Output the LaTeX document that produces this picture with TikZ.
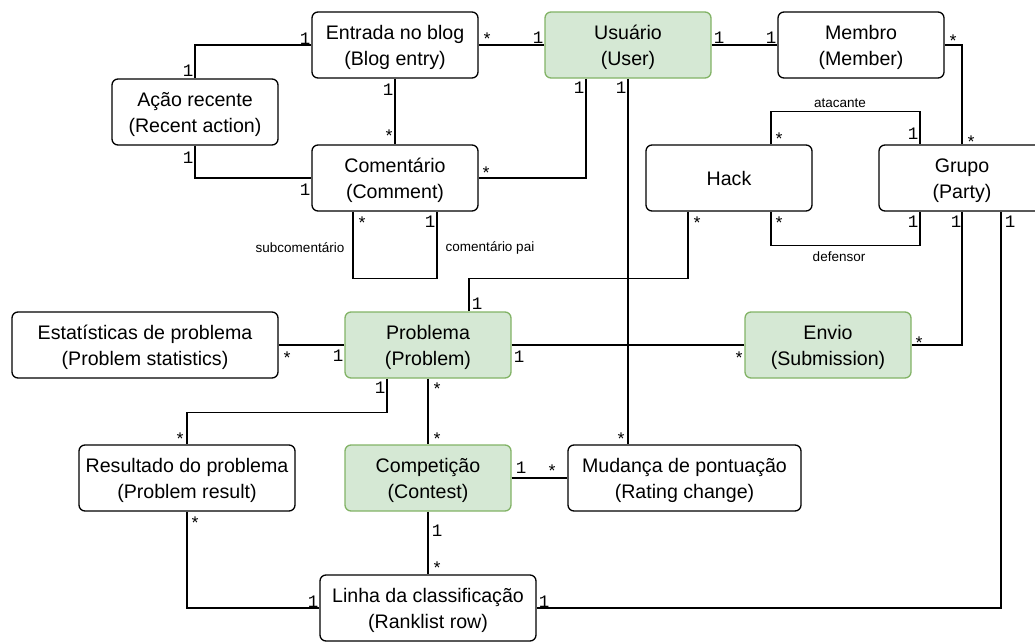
\documentclass[tikz,border=0pt]{standalone}
\usepackage{fontspec}
\setmainfont{Liberation Sans}
\newfontfamily\monof{Liberation Mono}
\usetikzlibrary{calc}
\definecolor{gfill}{HTML}{D5E8D4}
\definecolor{gdraw}{HTML}{82B366}
\newcommand{\tstrut}{\rule{0pt}{19.5pt}}
\begin{document}
\begin{tikzpicture}[x=1pt,y=-1pt,
 ent/.style={draw=black, line width=1.3pt, rounded corners=6pt, fill=white, minimum width=166pt, minimum height=66pt, align=center, inner sep=0pt, font=\fontsize{19.6}{25.5}\selectfont},
 grn/.style={ent, fill=gfill, draw=gdraw},
 conn/.style={line width=1.3pt, draw=black},
 mult/.style={inner sep=0pt, font=\monof\fontsize{17.5}{17.5}\selectfont},
 rl/.style={inner sep=0pt, font=\fontsize{13.5}{13.5}\selectfont}]
\useasboundingbox (0,0) rectangle (1035,642);
% entities
\node[ent] (blog) at (395,45) {\tstrut Entrada no blog\\(Blog entry)};
\node[grn] (user) at (628,45) {\tstrut Usuário\\(User)};
\node[ent] (member) at (861,45) {\tstrut Membro\\(Member)};
\node[ent] (recent) at (195,112) {\tstrut Ação recente\\(Recent action)};
\node[ent] (comment) at (395,178) {\tstrut Comentário\\(Comment)};
\node[ent] (hack) at (729,178) {Hack};
\node[ent] (party) at (962,178) {\tstrut Grupo\\(Party)};
\node[ent, minimum width=266pt] (stats) at (145,345) {\tstrut Estatísticas de problema\\(Problem statistics)};
\node[grn] (problem) at (428,345) {\tstrut Problema\\(Problem)};
\node[grn] (subm) at (828,345) {\tstrut Envio\\(Submission)};
\node[ent, minimum width=216pt] (presult) at (187,478) {\tstrut Resultado do problema\\(Problem result)};
\node[grn] (contest) at (428,478) {\tstrut Competição\\(Contest)};
\node[ent, minimum width=233pt] (rating) at (684.5,478) {\tstrut Mudança de pontuação\\(Rating change)};
\node[ent, minimum width=216pt] (rank) at (428,608) {\tstrut Linha da classificação\\(Ranklist row)};
% connectors
\draw[conn] (blog.west) -| (recent.north);
\draw[conn] (recent.south) |- (comment.west);
\draw[conn] (blog.south) -- (comment.north);
\draw[conn] (blog.east) -- (user.west);
\draw[conn] ($(user.south)+(-42,0)$) |- (comment.east);
\draw[conn] (user.east) -- (member.west);
\draw[conn] (member.east) -| (party.north);
\draw[conn] (user.south) -- (user.south |- rating.north);
\draw[conn] ($(hack.north)+(42,0)$) -- ++(0,-33) -| ($(party.north)+(-42,0)$);
\draw[conn] ($(hack.south)+(42,0)$) -- ++(0,34) -| ($(party.south)+(-42,0)$);
\draw[conn] ($(comment.south)+(-42,0)$) -- ++(0,67) -| ($(comment.south)+(42,0)$);
\draw[conn] ($(hack.south)+(-41,0)$) -- ++(0,67) -| ($(problem.north)+(41,0)$);
\draw[conn] (stats.east) -- (problem.west);
\draw[conn] (problem.east) -- (subm.west);
\draw[conn] (party.south) |- (subm.east);
\draw[conn] ($(party.south)+(39,0)$) |- (rank.east);
\draw[conn] ($(problem.south)+(-41,0)$) -- ++(0,34) -| (presult.north);
\draw[conn] (problem.south) -- (contest.north);
\draw[conn] (contest.east) -- (rating.west);
\draw[conn] (contest.south) -- (rank.north);
\draw[conn] (presult.south) |- (rank.west);
% multiplicities
\node[mult] (m1a) at (305,39) {1};
\node[mult] (m1b) at (188,71) {1};
\node[mult] (m2a) at (188,158) {1};
\node[mult] (m2b) at (305,190) {1};
\node[mult] (m3a) at (388,90) {1};
\node[mult] (m3b) at (389,136) {*};
\node[mult] (m4a) at (487,39) {*};
\node[mult] (m4b) at (538,38) {1};
\node[mult] (m5a) at (579,88) {1};
\node[mult] (m5b) at (486,173) {*};
\node[mult] (m6a) at (719,38) {1};
\node[mult] (m6b) at (771,38) {1};
\node[mult] (m7a) at (953,41) {*};
\node[mult] (m7b) at (971,142) {*};
\node[mult] (m8a) at (621,88) {1};
\node[mult] (m8b) at (621,439) {*};
\node[mult] (m9a) at (779,139) {*};
\node[mult] (m9b) at (913,134) {1};
\node[mult] (m10a) at (779,223) {*};
\node[mult] (m10b) at (913,222) {1};
\node[mult] (m11a) at (362,223) {*};
\node[mult] (m11b) at (430,222) {1};
\node[mult] (m12a) at (697,223) {*};
\node[mult] (m12b) at (477,304) {1};
\node[mult] (m13a) at (287,358) {*};
\node[mult] (m13b) at (338,356) {1};
\node[mult] (m14a) at (519,357) {1};
\node[mult] (m14b) at (739,358) {*};
\node[mult] (m15a) at (956,222) {1};
\node[mult] (m15b) at (919,343) {*};
\node[mult] (m16a) at (1010,222) {1};
\node[mult] (m16b) at (544,602) {1};
\node[mult] (m17a) at (380,388) {1};
\node[mult] (m17b) at (180,439) {*};
\node[mult] (m18a) at (437,389) {*};
\node[mult] (m18b) at (437,439) {*};
\node[mult] (m19a) at (521,468) {1};
\node[mult] (m19b) at (552,471) {*};
\node[mult] (m20a) at (437,531) {1};
\node[mult] (m20b) at (437,568) {*};
\node[mult] (m21a) at (195,523) {*};
\node[mult] (m21b) at (313,602) {1};
% role labels
\node[rl] (atk) at (840,103) {atacante};
\node[rl] (def) at (839,257) {defensor};
\node[rl] (sub) at (300,248) {subcomentário};
\node[rl] (par) at (490,248) {comentário pai};
\end{tikzpicture}
\end{document}
